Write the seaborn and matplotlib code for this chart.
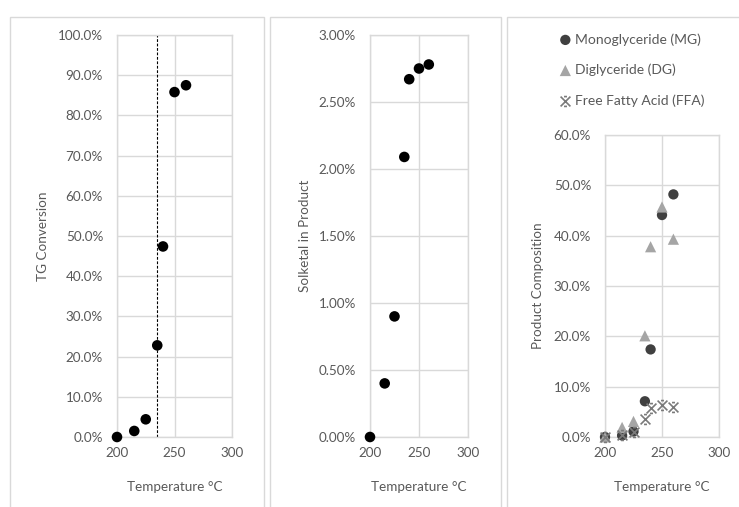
import numpy as np
import pandas as pd
import matplotlib
matplotlib.use('Agg')
import matplotlib.pyplot as plt
import seaborn as sns
from matplotlib.ticker import PercentFormatter, MultipleLocator
from matplotlib.patches import Rectangle
from matplotlib.path import Path

# data (values in percent)
temps = [200, 215, 225, 235, 240, 250, 260]
tg_conversion = [0.0, 1.5, 4.4, 22.8, 47.4, 85.8, 87.5]
solketal = [0.0, 0.40, 0.90, 2.09, 2.67, 2.75, 2.78]
mg = [0.0, 0.3, 1.1, 7.1, 17.4, 44.1, 48.2]
dg = [0.0, 1.9, 3.1, 20.1, 37.8, 45.7, 39.3]
ffa = [0.0, 0.3, 1.0, 3.6, 5.8, 6.3, 5.9]
dashed_temp = 235

sns.set_theme(style='white')
plt.rcParams['font.family'] = ['Lato', 'DejaVu Sans']
text_col = '#595959'
grid_col = '#d9d9d9'

W, H = 739, 507
fig = plt.figure(figsize=(W / 100, H / 100), dpi=100)

# panel frames (each chart is its own box)
for x0, x1 in [(10, 264), (270, 501), (507, 745)]:
    fig.patches.append(Rectangle((x0 / W, -0.05), (x1 - x0) / W, (H - 17) / H + 0.05,
                                 transform=fig.transFigure, fill=False,
                                 edgecolor=grid_col, lw=1.0))


def make_ax(left, right, top, bottom):
    return fig.add_axes([left / W, (H - bottom) / H, (right - left) / W, (bottom - top) / H])


def style_ax(ax, ymax, ystep, decimals, ylabel, ylab_x, xlab_y):
    ax.set_xlim(200, 300)
    ax.set_ylim(0, ymax)
    ax.xaxis.set_major_locator(MultipleLocator(50))
    ax.yaxis.set_major_locator(MultipleLocator(ystep))
    ax.yaxis.set_major_formatter(PercentFormatter(xmax=100, decimals=decimals))
    ax.grid(True, color=grid_col, lw=1.0)
    ax.set_axisbelow(True)
    for s in ax.spines.values():
        s.set_color(grid_col)
        s.set_linewidth(1.0)
    ax.tick_params(length=0, labelsize=9.7, labelcolor=text_col)
    ax.tick_params(axis='y', pad=10)
    ax.tick_params(axis='x', pad=7)
    ax.set_ylabel(ylabel, fontsize=9.7, color=text_col)
    ax.set_xlabel('Temperature °C', fontsize=9.7, color=text_col)
    ax.yaxis.set_label_coords(ylab_x, 0.5)
    ax.xaxis.set_label_coords(0.5, xlab_y)


# panel 1: TG conversion
ax1 = make_ax(117, 232, 35, 437)
ax1.axvline(dashed_temp, color='black', ls=(0, (2.5, 1.5)), lw=0.8, zorder=1)
sns.scatterplot(x=temps, y=tg_conversion, ax=ax1, color='black', s=58,
                edgecolor='none', zorder=3, clip_on=False)
style_ax(ax1, 100, 10, 1, 'TG Conversion', -0.59, -0.109)

# panel 2: solketal
ax2 = make_ax(370, 468, 35, 437)
sns.scatterplot(x=temps, y=solketal, ax=ax2, color='black', s=58,
                edgecolor='none', zorder=3, clip_on=False)
style_ax(ax2, 3, 0.5, 2, 'Solketal in Product', -0.60, -0.109)

# panel 3: product composition
ax3 = make_ax(605, 719, 135, 437)
# excel-style star: an X with short caps
star = Path([(-1, -1), (1, 1), (-1, 1), (1, -1), (-0.3, -1), (0.3, -1), (-0.3, 1), (0.3, 1)],
            [Path.MOVETO, Path.LINETO, Path.MOVETO, Path.LINETO,
             Path.MOVETO, Path.LINETO, Path.MOVETO, Path.LINETO])
sns.scatterplot(x=temps, y=mg, ax=ax3, color='#404040', marker='o', s=55,
                edgecolor='none', zorder=3, clip_on=False, label='Monoglyceride (MG)')
sns.scatterplot(x=temps, y=dg, ax=ax3, color='#a5a5a5', marker='^', s=65,
                edgecolor='none', zorder=3, clip_on=False, label='Diglyceride (DG)')
sns.scatterplot(x=temps, y=ffa, ax=ax3, color='#7a7a7a', marker=star, s=50,
                edgecolor='#7a7a7a', linewidth=1.2, zorder=4, clip_on=False,
                label='Free Fatty Acid (FFA)')
style_ax(ax3, 60, 10, 1, 'Product Composition', -0.535, -0.146)
leg = ax3.legend(loc='upper left', bbox_to_anchor=(557 / W, (H - 33) / H),
                 bbox_transform=fig.transFigure, frameon=False, fontsize=10,
                 labelspacing=1.3, handletextpad=0.1, handlelength=1.2,
                 borderaxespad=0, borderpad=0)
for t in leg.get_texts():
    t.set_color(text_col)

fig.savefig('out.png', dpi=100, facecolor='white')
